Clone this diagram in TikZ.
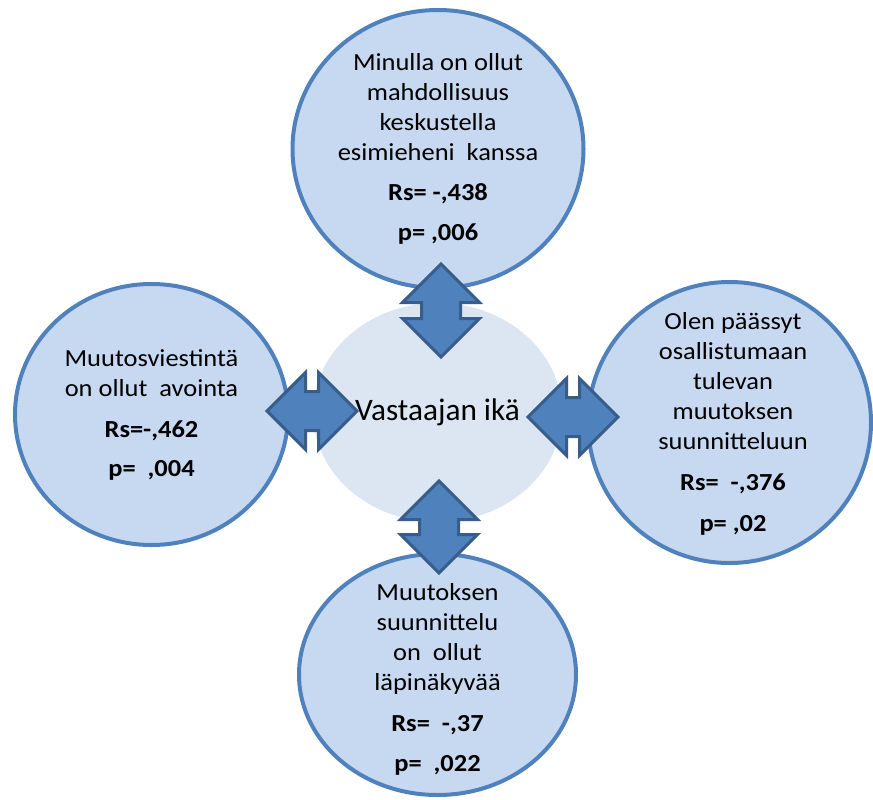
\documentclass[tikz,border=0pt]{standalone}
\usepackage{fontspec}
\setmainfont{Carlito}[FakeStretch=1.08]
\newfontfamily\corefont{Carlito}
\usepackage{xcolor}
\usetikzlibrary{shapes.geometric, shapes.arrows}

\definecolor{ringfill}{HTML}{C6D9F1}
\definecolor{ringline}{HTML}{4F81BD}
\definecolor{corefill}{HTML}{DCE6F2}
\definecolor{arrowfill}{HTML}{4F81BD}
\definecolor{arrowline}{HTML}{385D8A}

\begin{document}
\begin{tikzpicture}[
    x=1pt, y=-1pt,
    ring/.style={ellipse, draw=ringline, fill=ringfill, line width=4pt, inner sep=0pt},
    core/.style={ellipse, fill=corefill, inner sep=0pt, minimum width=249pt, minimum height=219pt},
    ringtext/.style={align=center, inner sep=0pt, font=\fontsize{24.5}{30}\selectfont},
    twoway/.style={double arrow, draw=arrowline, fill=arrowfill, line width=3pt,
        inner xsep=0pt, inner ysep=18pt, minimum width=0pt,
        double arrow head extend=19pt, double arrow tip angle=90,
        minimum height=#1}
]
\useasboundingbox (0,0) rectangle (873,800);

% Centre
\node[core] (age) at (437.5,412.5) {};
\node[font=\corefont\fontsize{31.3}{38}\selectfont] (agetext) at (age) {Vastaajan ikä};

% Outer circles
\node[ring, minimum width=291pt, minimum height=278pt] (talk) at (438,149) {};
\node[ring, minimum width=273pt, minimum height=261pt] (open) at (151.5,414.5) {};
\node[ring, minimum width=283pt, minimum height=281pt] (join) at (729.5,422.5) {};
\node[ring, minimum width=277pt, minimum height=241pt] (plan) at (437.5,674.5) {};

% Texts
\node[ringtext] (talktext) at (talk) {Minulla on ollut\\mahdollisuus\\keskustella\\esimieheni\ \ kanssa\\[10pt]
    \textbf{Rs= -,438}\\[10pt]\textbf{p= ,006}};
\node[ringtext] (opentext) at (open) {Muutosviestintä\\on ollut\ \ avointa\\[11pt]
    \textbf{Rs=-,462}\\[9pt]\textbf{p=\ \ ,004}};
\node[ringtext] (jointext) at (733,424) {Olen päässyt\\osallistumaan\\tulevan\\muutoksen\\suunnitteluun\\[11pt]
    \textbf{Rs=\ \ -,376}\\[11pt]\textbf{p= ,02}};
\node[ringtext] (plantext) at (437.5,679) {Muutoksen\\suunnittelu\\on\ \ ollut\\läpinäkyvää\\[11pt]
    \textbf{Rs=\ \ -,37}\\[10pt]\textbf{p=\ \ ,022}};

% Arrows
\node[twoway=93pt, rotate=90] (talkarrow) at (441,310.5) {};
\node[twoway=90pt] (openarrow) at (312,411) {};
\node[twoway=90pt] (joinarrow) at (573,417) {};
\node[twoway=92pt, rotate=90] (planarrow) at (439,527) {};

\end{tikzpicture}
\end{document}
